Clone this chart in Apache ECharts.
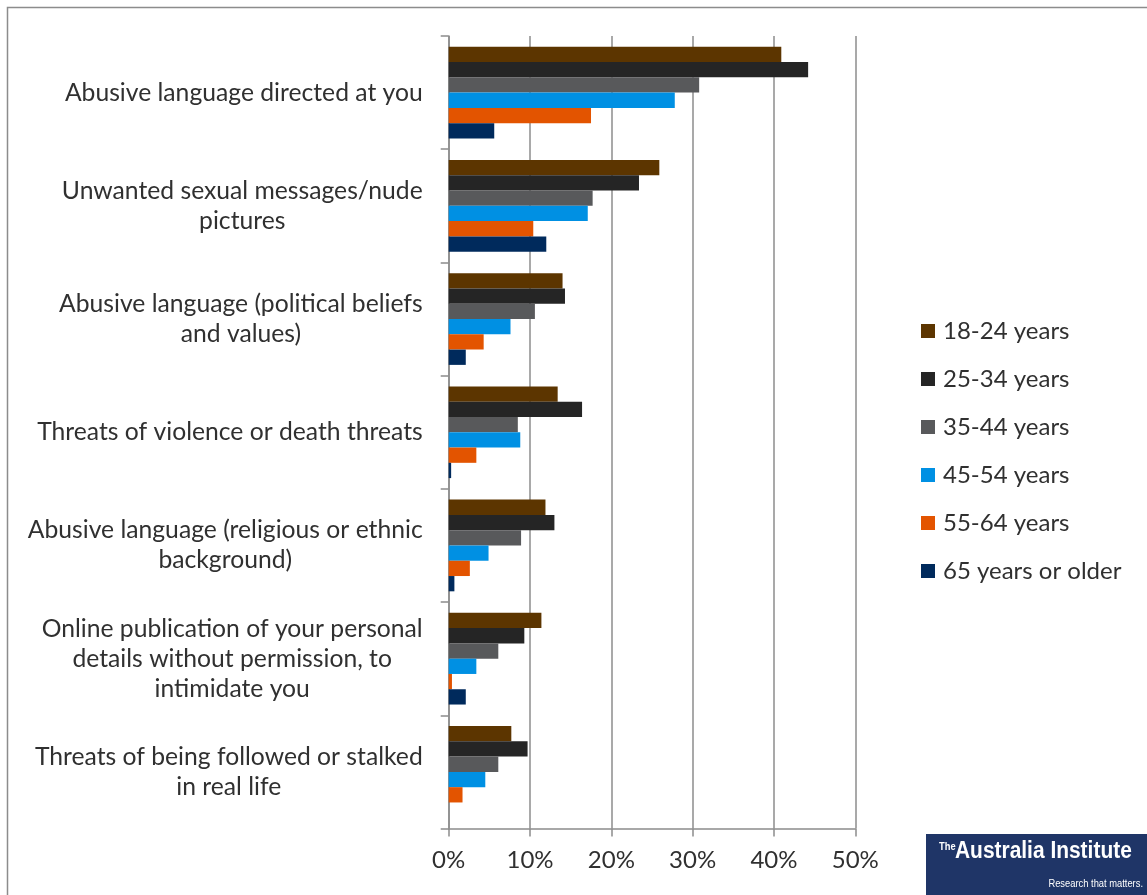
<!DOCTYPE html>
<html>
<head>
<meta charset="utf-8">
<script src="https://cdn.jsdelivr.net/npm/echarts@6/dist/echarts.min.js"></script>
<style>
  html, body { margin: 0; padding: 0; background: #fff; }
  #chart { width: 1147px; height: 895px; }
</style>
</head>
<body>
<div id="chart"></div>
<script>
// ---- data ----
const categories = [
  "Abusive language directed at you",
  "Unwanted sexual messages/nude\npictures",
  "Abusive language (political beliefs\nand values)",
  "Threats of violence or death threats",
  "Abusive language (religious or ethnic\nbackground)",
  "Online publication of your personal\ndetails without permission, to\nintimidate you",
  "Threats of being followed or stalked\nin real life"
];
const seriesNames = ["18-24 years", "25-34 years", "35-44 years", "45-54 years", "55-64 years", "65 years or older"];
const age18_24 = [40.9, 25.9, 14.0, 13.4, 11.9, 11.4, 7.7];
const age25_34 = [44.2, 23.4, 14.3, 16.4, 13.0, 9.3, 9.7];
const age35_44 = [30.8, 17.7, 10.6, 8.5, 8.9, 6.1, 6.1];
const age45_54 = [27.8, 17.1, 7.6, 8.8, 4.9, 3.4, 4.5];
const age55_64 = [17.5, 10.4, 4.3, 3.4, 2.6, 0.4, 1.7];
const age65plus = [5.6, 12.0, 2.1, 0.3, 0.7, 2.1, 0];
const xTicks = [0, 10, 20, 30, 40, 50];

const colors = ["#5c3500", "#252525", "#58595b", "#0090e3", "#e35400", "#002a5c"];
const seriesData = [age18_24, age25_34, age35_44, age45_54, age55_64, age65plus];

const FONT = "Lato";
const FS = 24;
const FS_CAT = 24.7;
const TXT = "#303030";

// rich styles so that lines within a label are centred, block right-aligned
const rich = {};
categories.forEach((c, i) => {
  rich["c" + i] = { align: "center", fontSize: FS_CAT, fontFamily: FONT, color: TXT, lineHeight: 30 };
});

const chart = echarts.init(document.getElementById("chart"), null, { renderer: "canvas" });

const option = {
  animation: false,
  backgroundColor: "#ffffff",
  grid: { left: 448.7, right: 291.7, top: 36, bottom: 66.5, containLabel: false },
  legend: {
    orient: "vertical",
    left: 921,
    top: 319,
    padding: 0,
    itemWidth: 14,
    itemHeight: 14,
    itemGap: 24,
    icon: "rect",
    data: seriesNames,
    textStyle: { fontFamily: FONT, fontSize: FS, color: TXT, lineHeight: 24, padding: [0, 0, 0, 3] }
  },
  xAxis: {
    type: "value",
    min: xTicks[0],
    max: xTicks[xTicks.length - 1],
    interval: 10,
    axisLine: { show: true, lineStyle: { color: "#8c8c8c", width: 1.5 } },
    axisTick: { show: true, length: 8, lineStyle: { color: "#8c8c8c", width: 1.5 } },
    splitLine: { show: true, lineStyle: { color: "#8c8c8c", width: 1.5 } },
    axisLabel: { formatter: "{value}%", fontFamily: FONT, fontSize: FS, color: TXT, margin: 20 }
  },
  yAxis: {
    type: "category",
    inverse: true,
    data: categories,
    axisLine: { show: true, lineStyle: { color: "#8c8c8c", width: 1.5 } },
    axisTick: { show: true, length: 8, lineStyle: { color: "#8c8c8c", width: 1.5 } },
    axisLabel: {
      margin: 26,
      align: "right",
      formatter: function (value, idx) {
        return value.split("\n").map(l => "{c" + idx + "|" + l + "}").join("\n");
      },
      rich: rich
    }
  },
  series: seriesNames.map((name, i) => ({
    name: name,
    type: "bar",
    data: seriesData[i],
    barGap: "0%",
    barCategoryGap: "19%",
    itemStyle: { color: colors[i] }
  })),
  graphic: [
    {
      type: "rect",
      shape: { x: 7.5, y: 7.5, width: 1300, height: 1000 },
      style: { fill: "none", stroke: "#8c8c8c", lineWidth: 1.5 },
      silent: true
    },
    {
      type: "group",
      left: 926,
      top: 834,
      children: [
        { type: "rect", shape: { x: 0, y: 0, width: 221, height: 61 }, style: { fill: "#1f3567" } },
        { type: "text", x: 13, y: 7, scaleX: 0.85, style: { text: "The", fill: "#fff", font: "bold 11px 'Liberation Sans', sans-serif" } },
        { type: "text", x: 29, y: 6, scaleX: 0.91, style: { text: "Australia Institute", fill: "#fff", font: "bold 23px 'Liberation Sans', sans-serif" } },
        { type: "text", x: 217, y: 44, scaleX: 0.85, style: { text: "Research that matters.", fill: "#fff", align: "right", font: "11px 'Liberation Sans', sans-serif" } }
      ]
    }
  ]
};

chart.setOption(option);
</script>
</body>
</html>
